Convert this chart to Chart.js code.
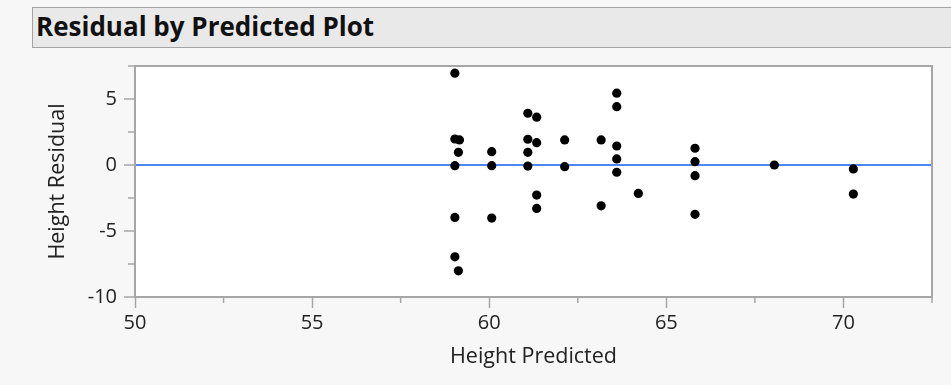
<!DOCTYPE html>
<html>
<head>
<meta charset="utf-8">
<script src="https://cdn.jsdelivr.net/npm/chart.js@4/dist/chart.umd.min.js"></script>
<style>
  html, body { margin: 0; padding: 0; background: #f7f7f7; width: 951px; height: 385px; overflow: hidden; }
  #title {
    position: absolute; left: 32px; top: 7px; width: 940px; height: 39px;
    border: 1px solid #a4a4a4; background: #e9e9e9;
    font-family: "Open Sans", sans-serif; font-weight: bold; font-size: 26px;
    line-height: 37px; padding-left: 3px; color: #111; box-sizing: content-box;
    white-space: nowrap;
  }
  #wrap { position: absolute; left: 0; top: 0; width: 951px; height: 385px; }
</style>
</head>
<body>
<div id="title">Residual by Predicted Plot</div>
<div id="wrap"><canvas id="c" width="951" height="385"></canvas></div>
<script>
// Data
const heightPredicted = [59.03, 59.03, 59.16, 59.13, 59.03, 59.03, 59.03, 59.13,
  60.07, 60.07, 60.07,
  61.09, 61.34, 61.09, 61.34, 61.09, 61.09, 61.34, 61.34,
  62.13, 62.13,
  63.16, 63.16,
  63.60, 63.60, 63.60, 63.60, 63.60,
  64.21,
  65.81, 65.81, 65.81, 65.81,
  68.05,
  70.28, 70.28];
const heightResidual = [6.96, 1.97, 1.90, 0.96, -0.05, -3.97, -6.96, -8.02,
  1.01, -0.05, -4.02,
  3.92, 3.62, 1.95, 1.69, 0.96, -0.08, -2.28, -3.29,
  1.90, -0.13,
  1.90, -3.09,
  5.44, 4.42, 1.44, 0.46, -0.55,
  -2.15,
  1.27, 0.25, -0.81, -3.74,
  0.0,
  -0.30, -2.20];
const xAxisTitle = "Height Predicted";
const yAxisTitle = "Height Residual";
const xRange = [50, 72.5];
const yRange = [-10, 7.5];
const tickStep = 2.5;
const labelStep = 5;
const fitLineValue = 0;

const points = heightPredicted.map((x, i) => ({ x: x, y: heightResidual[i] }));

const AXIS_COLOR = '#a6a6a6';
const FONT = '"Open Sans", sans-serif';

const isMajor = v => Math.abs(v / labelStep - Math.round(v / labelStep)) < 1e-9;

const framePlugin = {
  id: 'frame',
  beforeDraw(chart) {
    const { ctx, chartArea: a } = chart;
    ctx.save();
    ctx.fillStyle = '#ffffff';
    ctx.fillRect(a.left, a.top, a.right - a.left, a.bottom - a.top);
    ctx.restore();
  },
  afterDraw(chart) {
    const { ctx, chartArea: a } = chart;
    ctx.save();
    ctx.strokeStyle = AXIS_COLOR;
    ctx.lineWidth = 2;
    ctx.beginPath();
    ctx.moveTo(a.left, a.top);
    ctx.lineTo(a.right, a.top);
    ctx.lineTo(a.right, a.bottom);
    ctx.stroke();
    // minor ticks
    const xs = chart.scales.x, ys = chart.scales.y;
    ctx.lineWidth = 1.5;
    ctx.beginPath();
    xs.ticks.forEach(t => {
      if (!isMajor(t.value)) {
        const p = xs.getPixelForValue(t.value);
        ctx.moveTo(p, a.bottom);
        ctx.lineTo(p, a.bottom + 6);
      }
    });
    ys.ticks.forEach(t => {
      if (!isMajor(t.value)) {
        const p = ys.getPixelForValue(t.value);
        ctx.moveTo(a.left, p);
        ctx.lineTo(a.left - 7, p);
      }
    });
    ctx.stroke();
    ctx.restore();
  }
};

new Chart(document.getElementById('c'), {
  type: 'scatter',
  data: {
    datasets: [{
      data: points,
      backgroundColor: '#000000',
      borderColor: '#000000',
      borderWidth: 0,
      pointRadius: 4.6,
      pointHoverRadius: 4.6
    }]
  },
  options: {
    responsive: false,
    animation: false,
    devicePixelRatio: 1,
    layout: { padding: { left: 0, top: 66, right: 19, bottom: 0 } },
    plugins: { legend: { display: false }, tooltip: { enabled: false }, title: { display: false } },
    scales: {
      x: {
        type: 'linear',
        min: xRange[0], max: xRange[1],
        afterFit(scale) { scale.height = 88; },
        border: { display: true, color: AXIS_COLOR, width: 2 },
        grid: {
          drawOnChartArea: false,
          drawTicks: true,
          tickLength: 11,
          tickWidth: 1.5,
          tickColor: ctx => (ctx.tick && isMajor(ctx.tick.value)) ? AXIS_COLOR : 'rgba(0,0,0,0)'
        },
        ticks: {
          stepSize: tickStep,
          autoSkip: false,
          maxRotation: 0,
          padding: 3,
          color: '#222222',
          font: { family: FONT, size: 20 },
          callback: v => isMajor(v) ? String(v) : ''
        },
        title: {
          display: true, text: xAxisTitle, color: '#222222',
          font: { family: FONT, size: 21.5 },
          padding: { top: 0, bottom: 15 }
        }
      },
      y: {
        type: 'linear',
        min: yRange[0], max: yRange[1],
        afterFit(scale) { scale.width = 135; },
        border: { display: true, color: AXIS_COLOR, width: 2 },
        grid: {
          drawOnChartArea: true,
          drawTicks: true,
          tickLength: 11,
          tickWidth: 1.5,
          lineWidth: 2,
          color: ctx => (ctx.tick && ctx.tick.value === fitLineValue) ? '#4f86f5' : 'rgba(0,0,0,0)',
          tickColor: ctx => (ctx.tick && isMajor(ctx.tick.value)) ? AXIS_COLOR : 'rgba(0,0,0,0)'
        },
        ticks: {
          stepSize: tickStep,
          autoSkip: false,
          padding: 7,
          color: '#222222',
          font: { family: FONT, size: 20 },
          callback: v => isMajor(v) ? String(v) : ''
        },
        title: {
          display: true, text: yAxisTitle, color: '#222222',
          font: { family: FONT, size: 21.5 },
          padding: { top: 45, bottom: 0 }
        }
      }
    }
  },
  plugins: [framePlugin]
});
</script>
</body>
</html>
